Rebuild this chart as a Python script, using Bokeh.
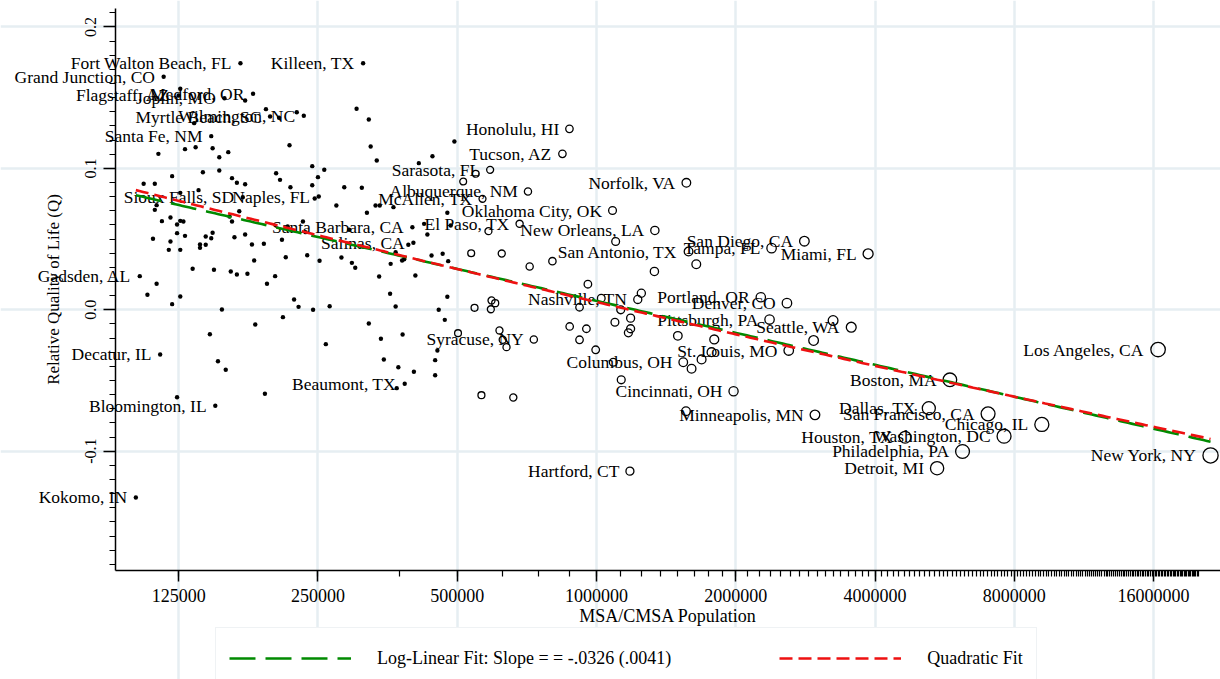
import numpy as np
from bokeh.plotting import figure
from bokeh.models import ColumnDataSource, FixedTicker, Range1d, Legend, LegendItem
from bokeh.core.properties import value
from bokeh.embed import file_html
from bokeh.resources import INLINE

# ---------------- data ----------------
label_names = [
    "Fort Walton Beach, FL", "Killeen, TX", "Grand Junction, CO", "Flagstaff, AZ",
    "Joplin, MO", "Medford, OR", "Myrtle Beach, SC", "Wilmington, NC", "Santa Fe, NM",
    "Sioux Falls, SD", "Naples, FL", "Santa Barbara, CA", "Salinas, CA", "Gadsden, AL",
    "Decatur, IL", "Bloomington, IL", "Beaumont, TX", "Kokomo, IN",
    "Honolulu, HI", "Tucson, AZ", "Sarasota, FL", "Albuquerque, NM", "McAllen, TX",
    "Norfolk, VA", "Oklahoma City, OK", "El Paso, TX", "New Orleans, LA",
    "San Antonio, TX", "Tampa, FL", "San Diego, CA", "Miami, FL", "Nashville, TN",
    "Portland, OR", "Denver, CO", "Pittsburgh, PA", "Seattle, WA", "Syracuse, NY",
    "St. Louis, MO", "Columbus, OH", "Cincinnati, OH", "Minneapolis, MN",
    "Hartford, CT", "Los Angeles, CA", "Boston, MA", "Dallas, TX",
    "San Francisco, CA", "Chicago, IL", "Houston, TX", "Washington, DC",
    "Philadelphia, PA", "Detroit, MI", "New York, NY",
]
label_pop = [
    170000, 313000, 116000, 125000, 157000, 181000, 197000, 233000, 147000,
    172000, 251000, 400000, 402000, 103000, 114000, 150000, 385000, 101000,
    874000, 844000, 589000, 711000, 567000, 1564000, 1083000, 682000, 1337000,
    1581000, 2390000, 2814000, 3864000, 1228000, 2265000, 2580000, 2366000,
    3553000, 732000, 2603000, 1540000, 1978000, 2966000, 1181000, 16360000,
    5805000, 5227000, 7020000, 9173000, 4645000, 7601000, 6182000, 5447000,
    21240000,
]
label_q = [
    0.1744, 0.1744, 0.1648, 0.1516, 0.1496, 0.1528, 0.1367, 0.1372, 0.1228,
    0.0796, 0.0801, 0.0584, 0.0474, 0.0238, -0.0316, -0.0679, -0.0523, -0.1327,
    0.128, 0.1103, 0.099, 0.0837, 0.0785, 0.0898, 0.0702, 0.0608, 0.0561,
    0.0412, 0.0436, 0.0485, 0.0396, 0.0073, 0.0089, 0.0047, -0.0069,
    -0.0123, -0.021, -0.0288, -0.0371, -0.0576, -0.0743, -0.1141, -0.0281,
    -0.0495, -0.0696, -0.0736, -0.0811, -0.0901, -0.0894, -0.1002, -0.112,
    -0.103,
]

other_pop = [
    126000, 174000, 193000, 206000, 225000, 135000, 129000, 136000, 148000, 153000,
    160000, 113000, 121000, 105000, 111000, 126000, 138000, 141000, 153000, 163000,
    167000, 174000, 246000, 169000, 161000, 163000, 126000, 128000, 120000, 115000,
    112000, 111000, 217000, 243000, 250000, 258000, 243000, 203000, 207000, 218000,
    274000, 285000, 311000, 303000, 322000, 325000, 335000, 333000, 340000, 364000,
    319000, 413000, 442000, 493000, 476000, 424000, 431000, 484000, 392000, 368000,
    380000, 384000, 440000, 465000, 478000, 213000, 237000, 252000, 281000, 296000,
    301000, 339000, 359000, 406000, 222000, 227000, 244000, 265000, 358000, 368000,
    456000, 476000, 470000, 210000, 322000, 342000, 381000, 260000, 347000, 373000,
    403000, 448000, 448000, 453000, 370000, 292000, 215000, 232000, 235000, 124000,
    110000, 120000, 119000, 124000, 129000, 126000, 139000, 139000, 143000, 143000,
    147000, 148000, 165000, 174000, 180000, 191000, 209000, 182000, 134000, 149000,
    162000, 167000, 176000, 202000, 194000, 112000, 107000, 121000, 126000, 155000,
    183000, 146000, 152000, 158000, 124000, 192000,
    548000, 515000, 584000, 536000, 624000, 717000, 803000, 1100000, 1334000, 958000,
    1643000, 545000, 593000, 604000, 591000, 502000, 617000, 627000, 639000, 564000,
    661000, 875000, 951000, 919000, 996000, 1087000, 1024000, 919000, 1128000, 1185000,
    1250000, 1096000, 1172000, 1185000, 1131000, 1499000, 1797000, 1605000, 1687000,
    1773000, 1561000, 3246000, 2946000,
]
other_q = [
    0.1563, 0.148, 0.1419, 0.1358, 0.1397, 0.132, 0.1136, 0.115, 0.1143, 0.1079,
    0.1115, 0.1103, 0.0945, 0.0891, 0.0891, 0.0827, 0.0846, 0.0973, 0.0985, 0.0931,
    0.0898, 0.0888, 0.0787, 0.0697, 0.066, 0.0624, 0.0629, 0.0624, 0.0653, 0.0627,
    0.074, 0.0707, 0.1164, 0.1016, 0.0938, 0.099, 0.0881, 0.0966, 0.0919, 0.0867,
    0.0738, 0.0867, 0.0863, 0.1422, 0.1346, 0.1155, 0.1056, 0.0738, 0.0738, 0.0726,
    0.0686, 0.1037, 0.1086, 0.119, 0.0686, 0.0608, 0.0533, 0.0596, 0.046, 0.0407,
    0.0349, 0.0358, 0.0384, 0.0396, 0.0344, 0.0372, 0.0386, 0.0347, 0.037, 0.0332,
    0.0297, 0.0236, 0.0325, 0.0243, 0.0073, 0.0021, 0.0, 0.0025, 0.0113, 0.0023,
    0.0, 0.0092, -0.0071, -0.0052, -0.0097, -0.0205, -0.0175, -0.0243, -0.0351, -0.0406,
    -0.0438, -0.0356, -0.0463, -0.0288, -0.0554, 0.0566, 0.0589, 0.0624, 0.0549, 0.0603,
    0.0502, 0.0483, 0.0424, 0.0542, 0.0523, 0.0424, 0.0462, 0.0438, 0.0518, 0.046,
    0.0506, 0.0545, 0.0513, 0.0533, 0.0462, 0.0467, 0.0495, 0.0349, 0.029, 0.0283,
    0.0271, 0.025, 0.0255, 0.0238, 0.0184, 0.0184, 0.0106, 0.004, 0.0094, 0.0002,
    -0.0104, -0.0173, -0.0364, -0.0424, -0.0618, -0.0594,
    0.0962, 0.0907, 0.0556, 0.04, 0.0398, 0.0306, 0.0344, 0.0483, 0.0271, 0.0181,
    0.0322, 0.0014, 0.0066, 0.0047, 0.0004, -0.0165, -0.0146, -0.0212, -0.0264, -0.0604,
    -0.062, -0.0118, -0.0134, -0.0212, -0.0283, -0.0371, 0.0082, 0.0018, 0.0, -0.0059,
    0.0117, -0.0088, -0.0163, -0.0134, -0.0495, -0.0184, -0.021, -0.0417, -0.0351,
    -0.03, -0.0717, -0.0076, -0.0217,
]

# fitted lines (coefficients in u = ln(pop / 1,000,000))
loglin_slope = -0.0326
loglin_at_1m = 0.0063
quad_coefs = [0.0055, -0.0333, 0.00053]

x_ticks = [125000, 250000, 500000, 1000000, 2000000, 4000000, 8000000, 16000000]
x_tick_labels = ["125000", "250000", "500000", "1000000", "2000000", "4000000",
                 "8000000", "16000000"]
y_ticks = [-0.1, 0.0, 0.1, 0.2]
y_tick_labels = ["-0.1", "0.0", "0.1", "0.2"]

legend_labels = ["Log-Linear Fit: Slope = = -.0326 (.0041)", "Quadratic Fit"]

# ---------------- styling / layout ----------------
FONT = "Liberation Serif"
GRID = "#e6eef2"
# axis box of the plot region (data units); the canvas extends a little beyond it
# so that marker labels may run to the left of the y axis as in the reference
axis_x_lo, axis_x_hi = 91300, 22320000
axis_y_lo, axis_y_hi = -0.1844, 0.2131
view_x = (51500, 22320000)
view_y = (-0.26146, 0.21874)

big_threshold = 500000
size_anchor_pop = [5e5, 1e6, 2e6, 4e6, 5e6, 6e6, 16e6, 21e6]
size_anchor_rad = [3.4, 3.8, 4.6, 5.0, 6.4, 6.9, 7.2, 7.6]
dot_radius = 2.2


def ring_radius(pops):
    pops = np.asarray(pops, float)
    r = np.interp(np.log10(pops), np.log10(size_anchor_pop), size_anchor_rad)
    return np.where(pops >= big_threshold, r, dot_radius)


pop = np.array(label_pop + other_pop, float)
q = np.array(label_q + other_q, float)
big = pop >= big_threshold
rad = ring_radius(pop)

dots = ColumnDataSource(dict(x=pop[~big], y=q[~big]))
rings = ColumnDataSource(dict(x=pop[big], y=q[big], s=2 * rad[big]))
lab_r = ring_radius(label_pop)
labels = ColumnDataSource(dict(x=label_pop, y=label_q, t=label_names,
                               off=-(lab_r + 6.5)))

xs = np.geomspace(pop.min(), pop.max(), 300)
u = np.log(xs / 1e6)
fit_src = ColumnDataSource(dict(
    x=xs,
    lin=loglin_at_1m + loglin_slope * u,
    quad=quad_coefs[0] + quad_coefs[1] * u + quad_coefs[2] * u ** 2,
))

p = figure(width=1220, height=679, x_axis_type="log",
           x_range=Range1d(*view_x), y_range=Range1d(*view_y),
           output_backend="svg", toolbar_location=None,
           min_border_left=0, min_border_right=0, min_border_top=0,
           min_border_bottom=0)
p.outline_line_color = None
p.background_fill_color = "white"
p.border_fill_color = "white"

xt = FixedTicker(ticks=x_ticks, minor_ticks=[125000 * k for k in range(1, 161)])
yt = FixedTicker(ticks=y_ticks, minor_ticks=[round(-0.18 + 0.01 * i, 2) for i in range(40)])
p.xaxis.ticker = xt
p.yaxis.ticker = yt
p.xgrid.ticker = xt
p.ygrid.ticker = yt
for g in (p.xgrid, p.ygrid):
    g.grid_line_color = GRID
    g.grid_line_width = 2.5
p.xgrid.bounds = (axis_y_lo, axis_y_hi)
p.ygrid.bounds = (axis_x_lo, axis_x_hi)

# axes drawn at the corner of the axis box, inside the canvas
p.xaxis.fixed_location = axis_y_lo
p.yaxis.fixed_location = axis_x_lo
p.xaxis.bounds = (axis_x_lo, axis_x_hi)
p.yaxis.bounds = (axis_y_lo, axis_y_hi)

p.xaxis.major_label_overrides = dict(zip(x_ticks, x_tick_labels))
p.yaxis.major_label_overrides = dict(zip(y_ticks, y_tick_labels))

for ax in (p.xaxis, p.yaxis):
    ax.axis_line_color = "black"
    ax.axis_line_width = 1.5
    ax.major_tick_line_color = "black"
    ax.major_tick_line_width = 1.5
    ax.minor_tick_line_color = "black"
    ax.minor_tick_line_width = 1.2
    ax.major_tick_in = 0
    ax.minor_tick_in = 0
    ax.minor_tick_out = 6
    ax.major_label_text_font = FONT
    ax.major_label_text_color = "black"
    ax.axis_label_text_font = FONT
    ax.axis_label_text_font_style = "normal"
    ax.axis_label_text_color = "black"

p.xaxis.major_tick_out = 11
p.xaxis.major_label_text_font_size = "18px"
p.xaxis.major_label_standoff = 7
p.xaxis.axis_label = "MSA/CMSA Population"
p.xaxis.axis_label_text_font_size = "18px"
p.xaxis.axis_label_standoff = 1

p.yaxis.major_tick_out = 12
p.yaxis.major_label_text_font_size = "16px"
p.yaxis.major_label_orientation = "vertical"
p.yaxis.major_label_standoff = 8
p.yaxis.axis_label = "Relative Quality of Life (Q)"
p.yaxis.axis_label_text_font_size = "17px"
p.yaxis.axis_label_standoff = 19

p.scatter("x", "y", source=dots, marker="circle", size=2 * dot_radius,
          fill_color="black", line_color=None)
p.scatter("x", "y", source=rings, marker="circle", size="s",
          fill_color=None, line_color="black", line_width=1.3)
p.text("x", "y", text="t", source=labels, x_offset="off",
       text_align="right", text_baseline="middle",
       text_font=value(FONT), text_font_size="17.5px", text_color="black")

g_line = p.line("x", "lin", source=fit_src, line_color="#008a00", line_width=2.6,
                line_dash="26 10")
r_line = p.line("x", "quad", source=fit_src, line_color="#ee1111", line_width=2.6,
                line_dash="13 6")

legend = Legend(items=[LegendItem(label=legend_labels[0], renderers=[g_line]),
                       LegendItem(label=legend_labels[1], renderers=[r_line])],
                orientation="horizontal", location=(215, -10),
                glyph_width=122, glyph_height=34, label_height=34,
                label_standoff=26, spacing=108, padding=13, margin=0,
                border_line_color="#dfe6ea", border_line_width=1,
                background_fill_color="white", background_fill_alpha=1,
                label_text_font=FONT, label_text_font_size="18px",
                label_text_color="black")
p.add_layout(legend)

open("out.html", "w").write(file_html(p, INLINE))
